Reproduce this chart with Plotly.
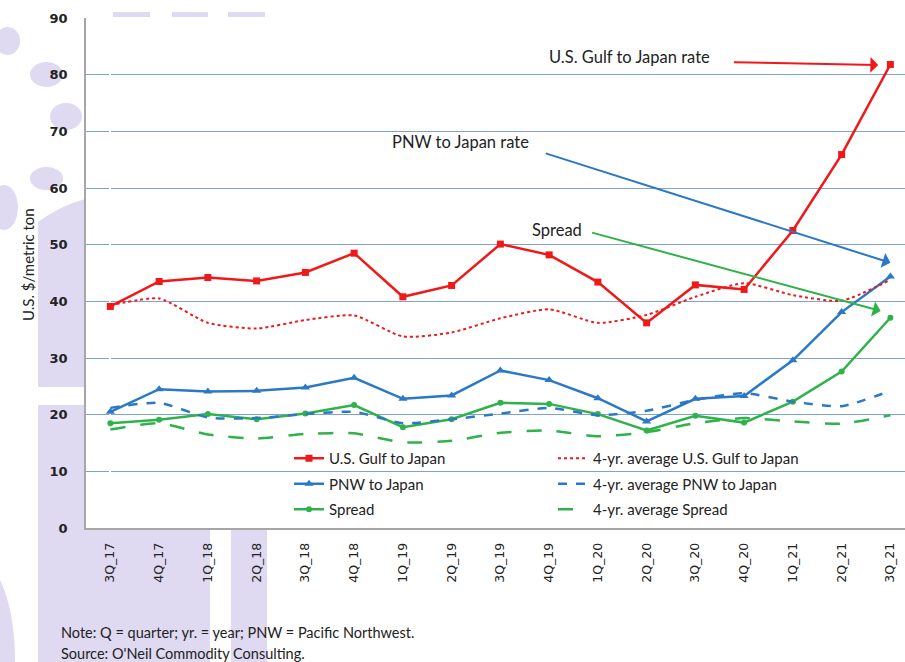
import plotly.graph_objects as go

quarters = ["3Q_17", "4Q_17", "1Q_18", "2Q_18", "3Q_18", "4Q_18", "1Q_19", "2Q_19", "3Q_19",
            "4Q_19", "1Q_20", "2Q_20", "3Q_20", "4Q_20", "1Q_21", "2Q_21", "3Q_21"]
gulf = [39.1, 43.5, 44.2, 43.6, 45.1, 48.5, 40.8, 42.8, 50.1, 48.2, 43.4, 36.2, 42.9, 42.1, 52.5, 65.9, 81.8]
gulf_avg = [39.3, 40.5, 36.2, 35.2, 36.7, 37.5, 33.8, 34.5, 37.0, 38.6, 36.2, 37.6, 40.8, 43.2, 41.1, 40.1, 43.8]
pnw = [20.5, 24.5, 24.1, 24.2, 24.8, 26.5, 22.8, 23.4, 27.8, 26.1, 22.9, 18.8, 22.8, 23.3, 29.6, 38.1, 44.4]
pnw_avg = [21.2, 22.1, 19.5, 19.4, 20.1, 20.5, 18.5, 19.2, 20.2, 21.2, 19.9, 20.7, 22.6, 23.8, 22.3, 21.5, 24.2]
spread = [18.5, 19.1, 20.1, 19.2, 20.2, 21.7, 17.8, 19.2, 22.1, 21.9, 20.1, 17.2, 19.8, 18.6, 22.3, 27.6, 37.1]
spread_avg = [17.4, 18.5, 16.5, 15.8, 16.6, 16.7, 15.1, 15.4, 16.8, 17.2, 16.2, 16.9, 18.5, 19.4, 18.8, 18.4, 19.9]
y_ticks = [0, 10, 20, 30, 40, 50, 60, 70, 80, 90]

RED = "#f01818"
BLUE = "#2a78c6"
GREEN = "#2fb24a"

W, H = 905, 662
ML, MR, MT, MB = 86, 0, 18, 134
PW, PH = W - ML - MR, H - MT - MB


def px(x):
    return (x - ML) / PW


def py(y):
    return (H - MB - y) / PH


fig = go.Figure()
x = list(range(len(quarters)))

fig.add_trace(go.Scatter(x=x, y=gulf, name="U.S. Gulf to Japan", mode="lines+markers",
                         line=dict(color=RED, width=2.5), marker=dict(symbol="square", size=7, color=RED),
                         legend="legend", legendgroup="a"))
fig.add_trace(go.Scatter(x=x, y=pnw, name="PNW to Japan", mode="lines+markers",
                         line=dict(color=BLUE, width=2.5), marker=dict(symbol="triangle-up", size=8, color=BLUE),
                         legend="legend", legendgroup="b"))
fig.add_trace(go.Scatter(x=x, y=spread, name="Spread", mode="lines+markers",
                         line=dict(color=GREEN, width=2.5), marker=dict(symbol="circle", size=6, color=GREEN),
                         legend="legend", legendgroup="c"))
fig.add_trace(go.Scatter(x=x, y=gulf_avg, name="4-yr. average U.S. Gulf to Japan", mode="lines",
                         line=dict(color=RED, width=2, dash="dot", shape="spline", smoothing=0.6),
                         legend="legend2", legendgroup="d"))
fig.add_trace(go.Scatter(x=x, y=pnw_avg, name="4-yr. average PNW to Japan", mode="lines",
                         line=dict(color=BLUE, width=2.5, dash="dash", shape="spline", smoothing=0.6),
                         legend="legend2", legendgroup="e"))
fig.add_trace(go.Scatter(x=x, y=spread_avg, name="4-yr. average Spread", mode="lines",
                         line=dict(color=GREEN, width=2.5, dash="longdash", shape="spline", smoothing=0.6),
                         legend="legend2", legendgroup="f"))

# watermark shapes (kept outside the plot area)
LAV = "#dfd9f2"
shapes = []


def circ(x0, y0, x1, y1):
    shapes.append(dict(type="circle", xref="paper", yref="paper", x0=px(x0), x1=px(x1), y0=py(y1), y1=py(y0),
                       fillcolor=LAV, line=dict(width=0), layer="below"))


def rect(x0, y0, x1, y1):
    shapes.append(dict(type="rect", xref="paper", yref="paper", x0=px(x0), x1=px(x1), y0=py(y1), y1=py(y0),
                       fillcolor=LAV, line=dict(width=0), layer="below"))


def path(pts_curve):
    shapes.append(dict(type="path", xref="paper", yref="paper", path=pts_curve,
                       fillcolor=LAV, line=dict(width=0), layer="below"))


def P(xp, yp):
    return f"{px(xp):.5f},{py(yp):.5f}"


circ(-5, 27, 20, 55)
circ(30, 62, 63, 87)
circ(50, 103, 82, 130)
circ(30, 167, 63, 190)
circ(-10, 185, 18, 230)
# upper block with curved top
path(f"M {P(38, 387)} L {P(38, 222)} Q {P(60, 206)} {P(85, 199)} L {P(85, 387)} Z")
# lower blocks
rect(38, 405, 85, 662)
rect(85, 529, 210, 662)
rect(231, 529, 267, 662)
circ(-60, 560, 15, 760)
rect(113, 12, 150, 17)
rect(172, 12, 208, 17)
rect(228, 12, 265, 17)

annotations = [
    dict(text="U.S. $/metric ton", xref="paper", yref="paper", x=px(28), y=py(265), textangle=-90,
         showarrow=False, font=dict(family="Lato", size=15, color="#222"), xanchor="center", yanchor="middle"),
    dict(text="Note: Q = quarter; yr. = year; PNW = Pacific Northwest.", xref="paper", yref="paper",
         x=px(59), y=py(632), xanchor="left", yanchor="middle", showarrow=False,
         font=dict(family="Lato", size=14.5, color="#222")),
    dict(text="Source: O'Neil Commodity Consulting.", xref="paper", yref="paper",
         x=px(59), y=py(653), xanchor="left", yanchor="middle", showarrow=False,
         font=dict(family="Lato", size=14.5, color="#222")),
    dict(text="U.S. Gulf to Japan rate", x=10.65, y=83.2, showarrow=False,
         font=dict(family="Lato", size=16.5, color="#222")),
    dict(text="PNW to Japan rate", x=7.18, y=68.2, showarrow=False,
         font=dict(family="Lato", size=16.5, color="#222")),
    dict(text="Spread", x=9.17, y=52.6, showarrow=False,
         font=dict(family="Lato", size=16.5, color="#222")),
    dict(x=15.75, y=81.7, ax=12.76, ay=82.2, axref="x", ayref="y", showarrow=True, arrowhead=1,
         arrowsize=1.3, arrowwidth=2, arrowcolor=RED, text=""),
    dict(x=16.0, y=46.8, ax=8.9, ay=66.2, axref="x", ayref="y", showarrow=True, arrowhead=1,
         arrowsize=1.3, arrowwidth=2, arrowcolor=BLUE, text=""),
    dict(x=15.8, y=38.3, ax=9.85, ay=52.2, axref="x", ayref="y", showarrow=True, arrowhead=1,
         arrowsize=1.3, arrowwidth=2, arrowcolor=GREEN, text=""),
]

fig.update_layout(
    width=W, height=H,
    margin=dict(l=ML, r=MR, t=MT, b=MB),
    paper_bgcolor="white", plot_bgcolor="white",
    shapes=shapes, annotations=annotations,
    legend=dict(x=px(289), y=py(442), xanchor="left", yanchor="top", bgcolor="rgba(0,0,0,0)",
                font=dict(family="Lato", size=15, color="#222"), tracegroupgap=3, itemwidth=30),
    legend2=dict(x=px(553), y=py(442), xanchor="left", yanchor="top", bgcolor="rgba(0,0,0,0)",
                 font=dict(family="Lato", size=15, color="#222"), tracegroupgap=3, itemwidth=30),
    xaxis=dict(range=[-0.5, 16.3], tickvals=x, ticktext=quarters, tickangle=-90, showgrid=False,
               showline=True, linecolor="#a6a6a6", linewidth=1.5, ticks="",
               tickfont=dict(family="DejaVu Sans", size=12.5, color="#222"), ticklabelstandoff=8),
    yaxis=dict(range=[0, 90], tickvals=y_ticks, showgrid=True, gridcolor="#7fa2d2", gridwidth=1,
               showline=True, linecolor="#a6a6a6", linewidth=1.5, ticks="", zeroline=False,
               tickfont=dict(family="DejaVu Sans", size=13, color="#222", weight="bold"), ticklabelstandoff=14),
)

fig.write_html("out.html", config={"displayModeBar": False},
               post_script="document.body.style.margin='0';document.body.style.padding='0';"
                           "document.documentElement.style.overflow='hidden';")
